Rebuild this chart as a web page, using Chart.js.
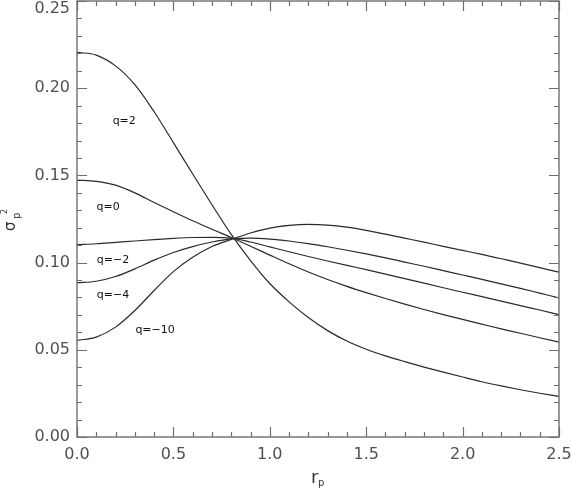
<!DOCTYPE html>
<html>
<head>
<meta charset="utf-8">
<script src="https://cdn.jsdelivr.net/npm/chart.js@4/dist/chart.umd.min.js"></script>
<style>
  html, body { margin: 0; padding: 0; background: #fff; }
  canvas { display: block; }
</style>
</head>
<body>
<canvas id="sigmaChart" width="572" height="491"></canvas>
<script>
// r_p sample points
const xValues = [0.0, 0.1, 0.2, 0.3, 0.4, 0.5, 0.6, 0.7, 0.8, 0.9, 1.0, 1.1, 1.2,
  1.3, 1.4, 1.5, 1.6, 1.7, 1.8, 1.9, 2.0, 2.1, 2.2, 2.3, 2.4, 2.5];

// sigma_p^2 for each q
const q2 = [0.2205, 0.2190, 0.2128, 0.2020, 0.1865, 0.1688, 0.1508, 0.1332, 0.1162,
  0.1012, 0.0880, 0.0775, 0.0685, 0.0610, 0.0550, 0.0503, 0.0465, 0.0432, 0.0401,
  0.0372, 0.0344, 0.0317, 0.0293, 0.0271, 0.0251, 0.0233];
const q0 = [0.1473, 0.1466, 0.1444, 0.1400, 0.1345, 0.1292, 0.1240, 0.1191, 0.1144,
  0.1094, 0.1043, 0.0993, 0.0946, 0.0903, 0.0864, 0.0828, 0.0794, 0.0762, 0.0731,
  0.0702, 0.0674, 0.0647, 0.0620, 0.0595, 0.0569, 0.0544];
const qm2 = [0.1103, 0.1108, 0.1116, 0.1124, 0.1132, 0.1139, 0.1144, 0.1145, 0.1140,
  0.1118, 0.1090, 0.1062, 0.1035, 0.1009, 0.0984, 0.0960, 0.0934, 0.0908, 0.0882,
  0.0856, 0.0830, 0.0805, 0.0779, 0.0753, 0.0728, 0.0702];
const qm4 = [0.0884, 0.0893, 0.0920, 0.0964, 0.1014, 0.1058, 0.1092, 0.1118, 0.1136,
  0.1140, 0.1135, 0.1124, 0.1109, 0.1091, 0.1071, 0.1050, 0.1027, 0.1003, 0.0979,
  0.0954, 0.0929, 0.0904, 0.0878, 0.0852, 0.0825, 0.0798];
const qm10 = [0.0554, 0.0573, 0.0630, 0.0725, 0.0840, 0.0948, 0.1030, 0.1092, 0.1133,
  0.1170, 0.1198, 0.1213, 0.1219, 0.1215, 0.1203, 0.1185, 0.1163, 0.1140, 0.1117,
  0.1093, 0.1070, 0.1047, 0.1022, 0.0997, 0.0971, 0.0945];

const seriesNames = ["q=2", "q=0", "q=\u22122", "q=\u22124", "q=\u221210"];
const seriesValues = [q2, q0, qm2, qm4, qm10];

// where the curve names sit (data units)
const labelX = [0.245, 0.161, 0.187, 0.187, 0.405];
const labelY = [0.181, 0.1317, 0.1016, 0.0815, 0.0615];

// tick labels
const xTickLabels = ["0.0", "0.5", "1.0", "1.5", "2.0", "2.5"];
const yTickLabels = ["0.00", "0.05", "0.10", "0.15", "0.20", "0.25"];

const tickColor = "#6e6e6e";
const labelFont = "16px 'DejaVu Sans'";

function majorIndex(v, step) {
  const k = v / step;
  return Math.abs(k - Math.round(k)) < 1e-6 ? Math.round(k) : -1;
}

// box, inward ticks on all four sides, tick labels, titles, curve names
const framePlugin = {
  id: "frame",
  afterDraw(chart) {
    const ctx = chart.ctx;
    const area = chart.chartArea;
    const xs = chart.scales.x;
    const ys = chart.scales.y;

    ctx.save();
    ctx.strokeStyle = tickColor;
    ctx.lineWidth = 1.4;
    ctx.strokeRect(area.left, area.top, area.right - area.left, area.bottom - area.top);

    ctx.lineWidth = 1.2;
    ctx.beginPath();
    xs.ticks.forEach(t => {
      const px = Math.round(xs.getPixelForValue(t.value)) + 0.5;
      const len = majorIndex(t.value, 0.5) >= 0 ? 10 : 5;
      ctx.moveTo(px, area.bottom);
      ctx.lineTo(px, area.bottom - len);
      ctx.moveTo(px, area.top);
      ctx.lineTo(px, area.top + len);
    });
    ys.ticks.forEach(t => {
      const py = Math.round(ys.getPixelForValue(t.value)) + 0.5;
      const len = majorIndex(t.value, 0.05) >= 0 ? 10 : 5;
      ctx.moveTo(area.left, py);
      ctx.lineTo(area.left + len, py);
      ctx.moveTo(area.right, py);
      ctx.lineTo(area.right - len, py);
    });
    ctx.stroke();

    // tick labels
    ctx.fillStyle = "#505050";
    ctx.font = labelFont;
    ctx.textAlign = "center";
    ctx.textBaseline = "middle";
    xs.ticks.forEach(t => {
      const i = majorIndex(t.value, 0.5);
      if (i >= 0 && xTickLabels[i]) {
        ctx.fillText(xTickLabels[i], xs.getPixelForValue(t.value), area.bottom + 18);
      }
    });
    ctx.textAlign = "right";
    ys.ticks.forEach(t => {
      const i = majorIndex(t.value, 0.05);
      if (i >= 0 && yTickLabels[i]) {
        const py = Math.max(ys.getPixelForValue(t.value), 9);
        ctx.fillText(yTickLabels[i], area.left - 7, py);
      }
    });

    // x title: r_p
    ctx.fillStyle = "#333";
    ctx.textAlign = "left";
    ctx.textBaseline = "alphabetic";
    ctx.font = "18px 'DejaVu Sans'";
    ctx.fillText("r", 311, 483);
    ctx.font = "10px 'DejaVu Sans'";
    ctx.fillText("p", 318, 486);

    // y title: sigma_p^2, rotated
    ctx.save();
    ctx.translate(15, 231);
    ctx.rotate(-Math.PI / 2);
    ctx.font = "15px 'DejaVu Sans'";
    ctx.fillText("\u03c3", 0, 0);
    ctx.font = "10px 'DejaVu Sans'";
    ctx.fillText("p", 12, 5);
    ctx.font = "8px 'DejaVu Sans'";
    ctx.fillText("2", 17, -8);
    ctx.restore();

    // curve names
    ctx.fillStyle = "#111";
    ctx.font = "11px 'DejaVu Sans'";
    ctx.textAlign = "center";
    ctx.textBaseline = "middle";
    seriesNames.forEach((name, i) => {
      ctx.fillText(name, xs.getPixelForValue(labelX[i]), ys.getPixelForValue(labelY[i]));
    });
    ctx.restore();
  }
};

const datasets = seriesValues.map((vals, i) => ({
  label: seriesNames[i],
  data: vals.map((v, j) => ({ x: xValues[j], y: v })),
  borderColor: "#2a2a2a",
  borderWidth: 1.2,
  pointRadius: 0,
  fill: false,
  cubicInterpolationMode: "monotone"
}));

// eslint-disable-next-line no-unused-vars
const sigmaChart = new Chart(document.getElementById("sigmaChart"), {
  type: "line",
  data: { datasets },
  options: {
    responsive: false,
    animation: false,
    devicePixelRatio: 1,
    layout: { padding: { top: 1, right: 13, left: 0, bottom: 0 } },
    plugins: {
      legend: { display: false },
      tooltip: { enabled: false }
    },
    scales: {
      x: {
        type: "linear",
        min: 0,
        max: 2.5,
        grid: { display: false },
        border: { display: false },
        ticks: { display: false, stepSize: 0.1, autoSkip: false },
        afterFit: scale => { scale.height = 54; }
      },
      y: {
        type: "linear",
        min: 0,
        max: 0.25,
        grid: { display: false },
        border: { display: false },
        ticks: { display: false, stepSize: 0.01, autoSkip: false },
        afterFit: scale => { scale.width = 77; }
      }
    }
  },
  plugins: [framePlugin]
});
</script>
</body>
</html>
